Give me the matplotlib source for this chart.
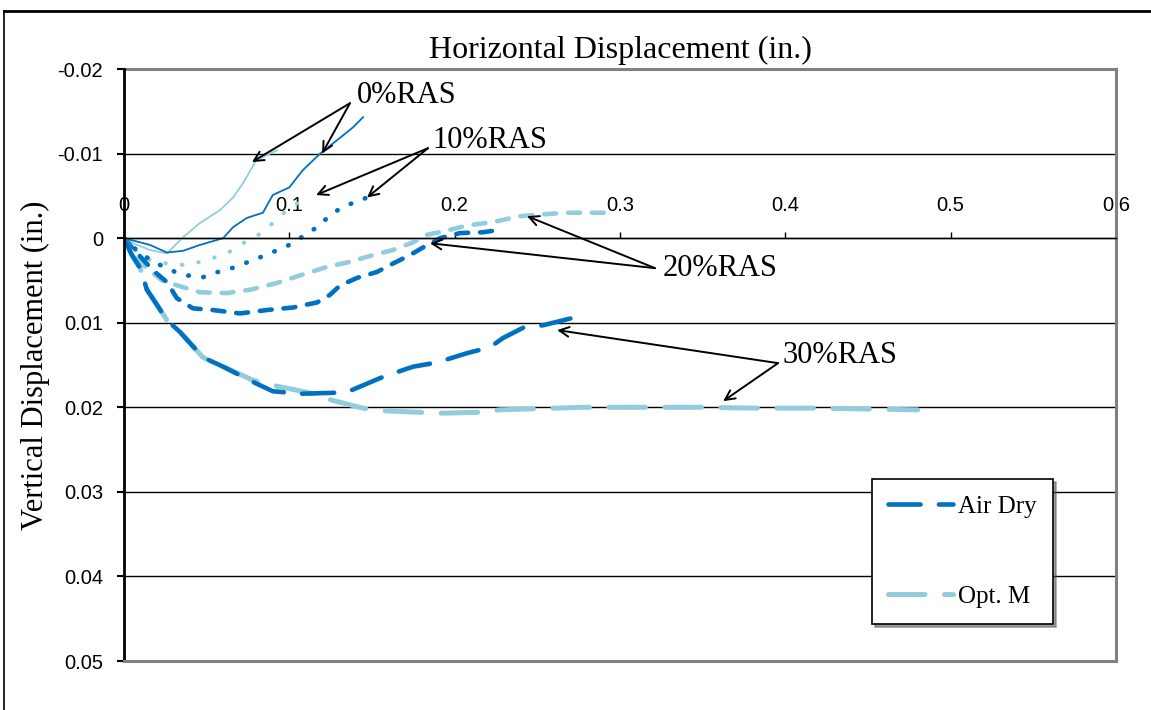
import matplotlib
matplotlib.use("Agg")
import matplotlib.pyplot as plt
from matplotlib.lines import Line2D

# Horizontal / vertical displacement traces (in.)
ras0_opt_x = [0, 0.0067, 0.0157, 0.026, 0.0357, 0.046, 0.058, 0.066, 0.072, 0.080, 0.0926]
ras0_opt_y = [0, 0.0007, 0.0014, 0.0018, -0.0001, -0.0018, -0.0033, -0.0048, -0.0065, -0.0092, -0.0104]

ras0_air_x = [0, 0.0157, 0.026, 0.0357, 0.046, 0.060, 0.066, 0.0744, 0.084, 0.090, 0.100,
              0.108, 0.1186, 0.129, 0.1385, 0.1446]
ras0_air_y = [0, 0.0008, 0.0017, 0.0015, 0.0008, 0.0, -0.0013, -0.0024, -0.003, -0.0051, -0.006,
              -0.008, -0.010, -0.0116, -0.0131, -0.0143]

ras10_opt_x = [0, 0.0067, 0.0157, 0.026, 0.038, 0.050, 0.0623, 0.072, 0.0823, 0.0944, 0.100, 0.1125]
ras10_opt_y = [0, 0.0014, 0.0026, 0.003, 0.0032, 0.0026, 0.0018, 0.0006, -0.0005, -0.0025, -0.0037, -0.0048]

ras10_air_x = [0, 0.0097, 0.020, 0.031, 0.038, 0.048, 0.055, 0.066, 0.078, 0.0883, 0.100,
               0.1065, 0.1168, 0.1264, 0.135, 0.147]
ras10_air_y = [0, 0.0018, 0.003, 0.004, 0.0044, 0.0046, 0.0041, 0.0035, 0.0026, 0.0018, 0.0008,
               0.0, -0.0013, -0.003, -0.0039, -0.0048]

ras20_opt_x = [0, 0.008, 0.023, 0.0357, 0.046, 0.0623, 0.0762, 0.0926, 0.1065, 0.1228, 0.1367,
               0.1506, 0.1627, 0.1748, 0.1833, 0.1954, 0.2075, 0.2232, 0.2396, 0.2517, 0.268, 0.292]
ras20_opt_y = [0, 0.0026, 0.005, 0.0058, 0.0064, 0.0065, 0.0061, 0.0053, 0.0044, 0.0034, 0.0028,
               0.002, 0.0014, 0.0005, -0.0004, -0.0009, -0.0015, -0.0019, -0.0026, -0.0028, -0.003, -0.003]

ras20_air_x = [0, 0.0048, 0.0175, 0.026, 0.032, 0.0417, 0.0538, 0.0702, 0.0865, 0.1022, 0.1168,
               0.1246, 0.1307, 0.141, 0.153, 0.1627, 0.173, 0.1809, 0.1912, 0.2033, 0.2172, 0.2244]
ras20_air_y = [0, 0.0011, 0.0038, 0.0052, 0.0071, 0.0083, 0.0085, 0.0089, 0.0085, 0.0082, 0.0076,
               0.0067, 0.0056, 0.0047, 0.004, 0.003, 0.002, 0.0011, 0.0, -0.0006, -0.0007, -0.0009]

ras30_air_x = [0, 0.0048, 0.0097, 0.0139, 0.020, 0.026, 0.0339, 0.0478, 0.060, 0.078, 0.090, 0.1065,
               0.1246, 0.135, 0.1446, 0.1567, 0.1748, 0.1894, 0.2075, 0.2214, 0.2293, 0.2414, 0.2535, 0.270]
ras30_air_y = [0, 0.002, 0.0035, 0.0061, 0.0079, 0.0097, 0.0111, 0.0141, 0.0152, 0.017, 0.0181, 0.0184,
               0.0183, 0.0182, 0.0174, 0.0164, 0.0152, 0.0147, 0.0136, 0.0129, 0.0118, 0.0106, 0.0103, 0.0095]

ras30_opt_x = [0, 0.0048, 0.0097, 0.0139, 0.020, 0.026, 0.0339, 0.0478, 0.060, 0.078, 0.090, 0.1125,
               0.1246, 0.1446, 0.1567, 0.179, 0.1912, 0.2135, 0.2275, 0.2777, 0.3485, 0.383, 0.4168,
               0.4495, 0.480]
ras30_opt_y = [0, 0.002, 0.0035, 0.0061, 0.0079, 0.0097, 0.0111, 0.0141, 0.0152, 0.0168, 0.0174, 0.0183,
               0.0191, 0.0201, 0.0204, 0.0206, 0.0207, 0.0206, 0.0203, 0.020, 0.020, 0.0201, 0.0201,
               0.0202, 0.0203]

x_ticks = [0, 0.1, 0.2, 0.3, 0.4, 0.5, 0.6]
x_tick_labels = ["0", "0.1", "0.2", "0.3", "0.4", "0.5", "0.6"]
y_ticks = [-0.02, -0.01, 0, 0.01, 0.02, 0.03, 0.04, 0.05]
y_tick_labels = ["-0.02", "-0.01", "0", "0.01", "0.02", "0.03", "0.04", "0.05"]

# label text, label anchor, arrow start, arrow tips
callouts = [
    ("0%RAS", (0.141, -0.0169), (0.1367, -0.01596), [(0.0774, -0.0090), (0.1198, -0.0100)]),
    ("10%RAS", (0.1863, -0.01158), (0.1839, -0.01064), [(0.1162, -0.0051), (0.147, -0.0048)]),
    ("20%RAS", (0.3255, 0.00355), (0.3212, 0.00355), [(0.2438, -0.0026), (0.1851, 0.0006)]),
    ("30%RAS", (0.398, 0.01383), (0.3956, 0.01478), [(0.262, 0.01087), (0.3624, 0.01927)]),
]

DARK = "#0070C0"
LIGHT = "#93CDDD"
SERIF = "Liberation Serif"
SANS = "Liberation Sans"

fig = plt.figure(figsize=(11.51, 7.10), dpi=100)
ax = fig.add_axes([0.1077, 0.0690, 0.8619, 0.8338])

# 0% RAS - thin solid
ax.plot(ras0_opt_x, ras0_opt_y, color=LIGHT, lw=1.3)
ax.plot(ras0_air_x, ras0_air_y, color=DARK, lw=1.3)

# 10% RAS - dotted
ax.plot(ras10_opt_x, ras10_opt_y, color=LIGHT, lw=3.0, dashes=(0.1, 3.9), dash_capstyle="round")
ax.plot(ras10_air_x, ras10_air_y, color=DARK, lw=3.4, dashes=(0.1, 3.1), dash_capstyle="round")

# 20% RAS - short dash
ax.plot(ras20_opt_x, ras20_opt_y, color=LIGHT, lw=3.3, dashes=(2.6, 2.6), dash_capstyle="round")
ax.plot(ras20_air_x, ras20_air_y, color=DARK, lw=3.3, dashes=(2.6, 2.6), dash_capstyle="round")

# 30% RAS - long dash (also used for the legend)
h_opt, = ax.plot(ras30_opt_x, ras30_opt_y, color=LIGHT, lw=3.6, dashes=(7.3, 3.9),
                 dash_capstyle="round", label="Opt. M")
h_air, = ax.plot(ras30_air_x, ras30_air_y, color=DARK, lw=3.3, dashes=(7.0, 4.0),
                 dash_capstyle="round", label="Air Dry")

for text, pos, start, tips in callouts:
    ax.text(pos[0], pos[1], text, family=SERIF, fontsize=22, ha="left", va="center")
    for tip in tips:
        ax.annotate("", xy=tip, xytext=start,
                    arrowprops=dict(arrowstyle="->,head_length=0.7,head_width=0.35",
                                    color="black", lw=1.4, shrinkA=0, shrinkB=0))

ax.set_xlim(0, 0.6)
ax.set_ylim(0.05, -0.02)

# x axis runs along y = 0 with labels above it
ax.xaxis.tick_top()
ax.spines["top"].set_position(("data", 0))
ax.spines["top"].set_color("black")
ax.spines["top"].set_linewidth(1.0)
ax.set_xticks(x_ticks)
ax.set_xticklabels(x_tick_labels, family=SANS, fontsize=14.5)
ax.tick_params(axis="x", direction="out", length=4.5, width=1.0, pad=12)

ax.set_yticks(y_ticks)
ax.set_yticklabels(y_tick_labels, family=SANS, fontsize=14.5)
ax.tick_params(axis="y", direction="out", length=5, width=1.5, pad=10)
ax.spines["left"].set_color("black")
ax.spines["left"].set_linewidth(2.0)
for side in ["right", "bottom"]:
    ax.spines[side].set_color("#808080")
    ax.spines[side].set_linewidth(2.2)
ax.add_line(Line2D([0, 1], [1, 1], transform=ax.transAxes, color="#808080", lw=2.2, clip_on=False))

ax.yaxis.grid(True, color="black", lw=1.0)
ax.set_axisbelow(True)

ax.text(0.5, 1.019, "Horizontal Displacement (in.)", transform=ax.transAxes,
        family=SERIF, fontsize=23, ha="center", va="baseline")
ax.set_ylabel("Vertical Displacement (in.)", family=SERIF, fontsize=22, va="center")
ax.yaxis.set_label_coords(-0.0897, 0.5)

leg = ax.legend(handles=[h_air, h_opt], loc="upper left", bbox_to_anchor=(0.754, 0.307),
                prop={"family": SERIF, "size": 18}, frameon=True, fancybox=False, shadow=True,
                edgecolor="black", framealpha=1, borderpad=0.65, labelspacing=2.7,
                handlelength=2.6, handletextpad=0.2, borderaxespad=0)
leg.get_frame().set_linewidth(1.2)

# outer chart frame
fig.add_artist(Line2D([0.0035, 1], [0.9845, 0.9845], transform=fig.transFigure, color="black", lw=2))
fig.add_artist(Line2D([0.0035, 0.0035], [0, 0.9845], transform=fig.transFigure, color="black", lw=1.2))

fig.savefig("out.png", dpi=100)
